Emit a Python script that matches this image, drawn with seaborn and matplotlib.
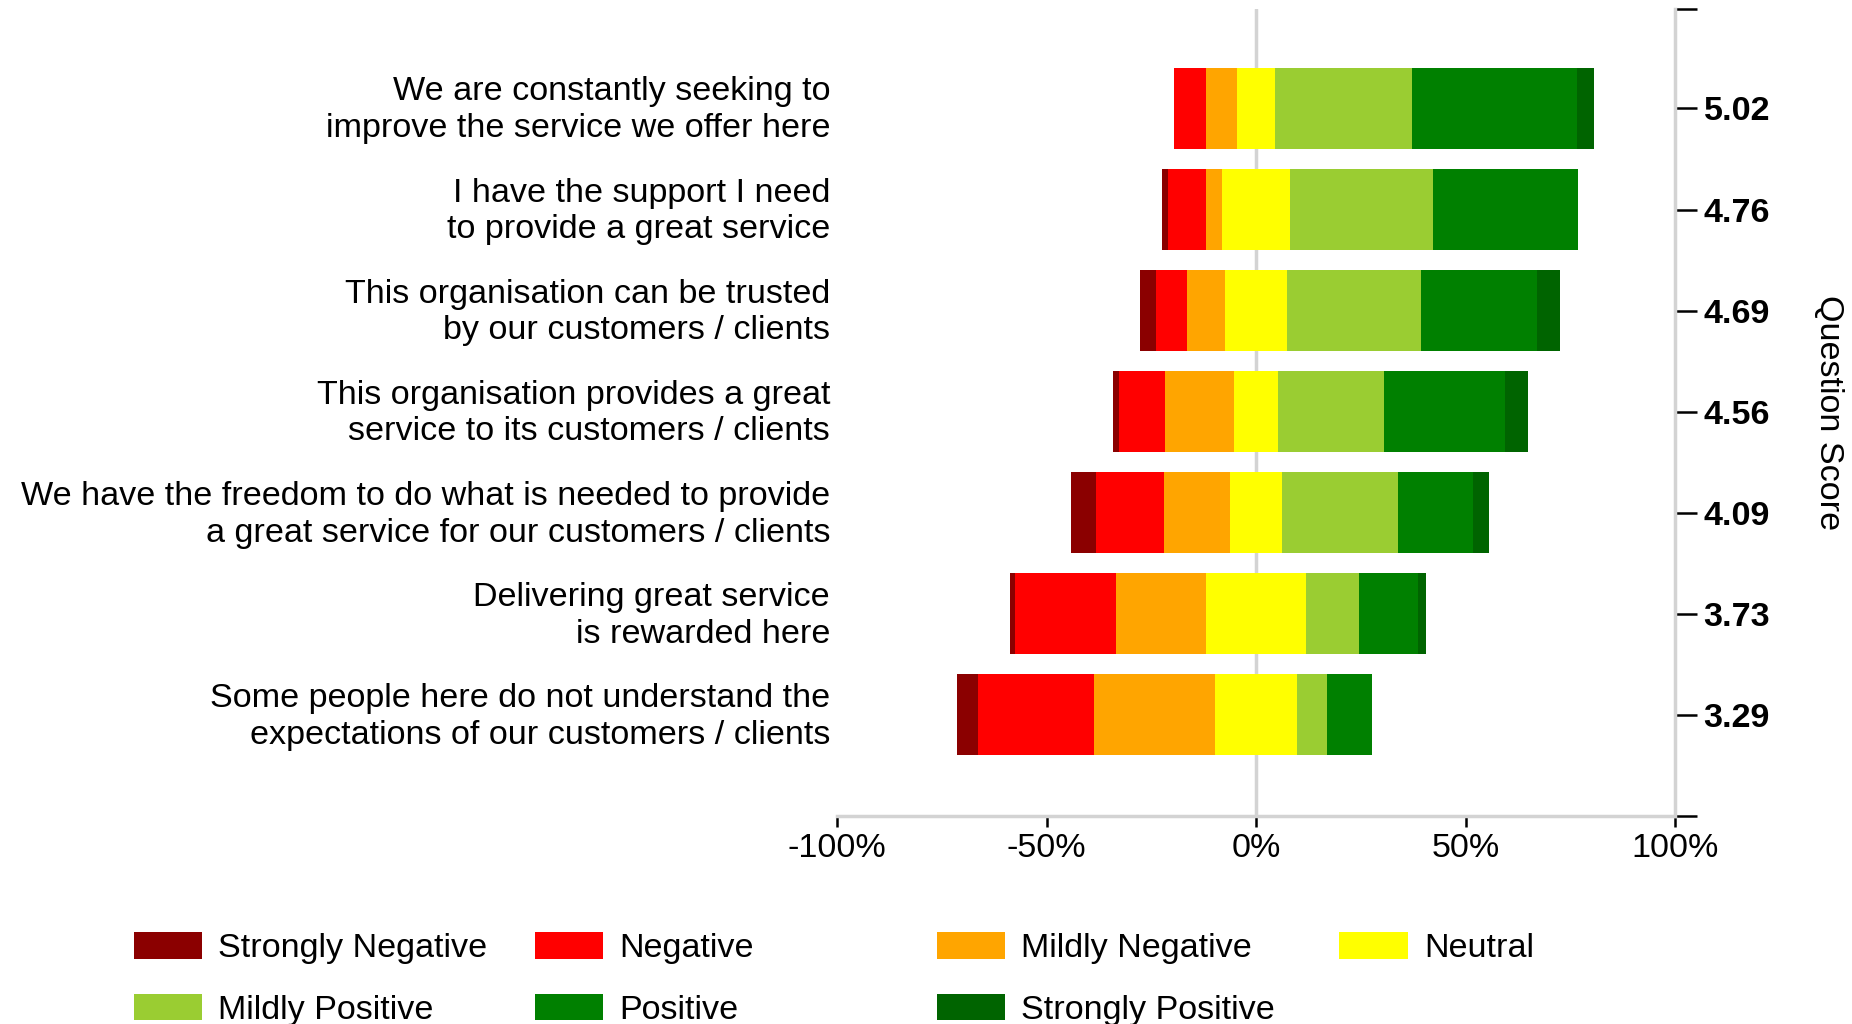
import matplotlib
matplotlib.use("Agg")
import matplotlib.pyplot as plt
from matplotlib.patches import Patch
from matplotlib.transforms import ScaledTranslation
import numpy as np
import seaborn as sns

# questions, top to bottom
questions = [
    "We are constantly seeking to\nimprove the service we offer here",
    "I have the support I need\nto provide a great service",
    "This organisation can be trusted\nby our customers / clients",
    "This organisation provides a great\nservice to its customers / clients",
    "We have the freedom to do what is needed to provide\na great service for our customers / clients",
    "Delivering great service\nis rewarded here",
    "Some people here do not understand the\nexpectations of our customers / clients",
]
scores = ["5.02", "4.76", "4.69", "4.56", "4.09", "3.73", "3.29"]

categories = ["Strongly Negative", "Negative", "Mildly Negative", "Neutral",
              "Mildly Positive", "Positive", "Strongly Positive"]
colors = ["#8b0000", "#ff0000", "#ffa500", "#ffff00", "#9acd32", "#008000", "#006400"]

# % of responses per question
strongly_negative = [0.0, 1.4, 3.8, 1.4, 5.9, 1.4, 5.2]
negative = [7.6, 9.0, 7.4, 11.1, 16.4, 23.9, 27.5]
mildly_negative = [7.5, 3.8, 9.0, 16.4, 15.6, 21.6, 29.0]
neutral = [9.0, 16.3, 14.9, 10.4, 12.6, 23.8, 19.5]
mildly_positive = [32.8, 34.2, 32.0, 25.4, 27.5, 12.8, 7.3]
positive = [39.4, 34.4, 27.5, 28.9, 18.0, 14.0, 10.7]
strongly_positive = [4.0, 0.0, 5.5, 5.5, 3.8, 1.9, 0.0]

x_ticks = [-100, -50, 0, 50, 100]

sns.set_style("white")
plt.rcParams["font.family"] = ["Liberation Sans", "DejaVu Sans"]
for key in ["text.color", "axes.labelcolor", "xtick.color", "ytick.color"]:
    plt.rcParams[key] = "black"
FS = 24.6
GREY = "#d3d3d3"

# neutral is split around zero, the rest stacks outwards from it
half_neu = np.array(neutral) / 2
neg_mild = half_neu + np.array(mildly_negative)
neg_mid = neg_mild + np.array(negative)
neg_strong = neg_mid + np.array(strongly_negative)
pos_mild = half_neu + np.array(mildly_positive)
pos_mid = pos_mild + np.array(positive)
pos_strong = pos_mid + np.array(strongly_positive)

layers = [
    (-neg_strong, colors[0]), (-neg_mid, colors[1]), (-neg_mild, colors[2]),
    (pos_strong, colors[6]), (pos_mid, colors[5]), (pos_mild, colors[4]),
]

fig, ax = plt.subplots(figsize=(18.52, 10.24), dpi=100)
fig.subplots_adjust(left=837 / 1852, right=1675 / 1852, top=1 - 9.4 / 1024, bottom=1 - 816 / 1024)

ax.axvline(0, color=GREY, lw=2.5, zorder=0)
for ends, col in layers:
    sns.barplot(x=ends, y=questions, orient="y", color=col, saturation=1, width=0.8,
                errorbar=None, linewidth=0, zorder=2, ax=ax)
sns.barplot(x=neutral, y=questions, orient="y", color=colors[3], saturation=1, width=0.8,
            errorbar=None, linewidth=0, zorder=3, left=-half_neu, ax=ax)

ylims = (7.0, -0.98)
ax.set_xlim(-100, 100)
ax.set_ylim(*ylims)
ax.set_xticks(x_ticks)
ax.set_xticklabels([f"{t}%" for t in x_ticks])
ax.set_xlabel("")
ax.set_ylabel("")
ax.tick_params(axis="x", length=8, width=1.8, color="black", labelsize=FS, pad=4, bottom=True)
ax.tick_params(axis="y", length=0, labelsize=FS, pad=5)
for s in ["left", "top", "right"]:
    ax.spines[s].set_visible(False)
ax.spines["bottom"].set_color(GREY)
ax.spines["bottom"].set_linewidth(2.5)

# nudge the two-line question labels up a little
lift = ScaledTranslation(0, 4.5 / 100, fig.dpi_scale_trans)
for lbl in ax.get_yticklabels():
    lbl.set_linespacing(1.24)
    lbl.set_transform(lbl.get_transform() + lift)

# score axis on the right
ax2 = ax.twinx()
ax2.set_ylim(*ylims)
ax2.set_yticks([ylims[1]] + list(range(len(scores))) + [ylims[0]])
ax2.set_yticklabels([""] + scores + [""], fontweight="bold")
ax2.tick_params(axis="y", length=15.5, width=1.8, color="black", labelsize=FS, pad=5, right=True)
for s in ["left", "top", "bottom"]:
    ax2.spines[s].set_visible(False)
ax2.spines["right"].set_color(GREY)
ax2.spines["right"].set_linewidth(2.5)
ax2.set_ylabel("Question Score", rotation=270, fontsize=FS, va="center")
ax2.yaxis.set_label_coords(1 + 153 / 838, 0.5)

# legend: four fixed-width columns, filled row by row
handles = [Patch(facecolor=c, edgecolor="none", label=l) for l, c in zip(categories, colors)]
columns = [[0, 4], [1, 5], [2, 6], [3]]
col_x = [133.5, 535, 936.6, 1339.3]
for idx, x in zip(columns, col_x):
    fig.legend(handles=[handles[i] for i in idx], loc="upper left",
               bbox_to_anchor=(x / 1852, 1 - 932 / 1024), frameon=False, fontsize=FS,
               handlelength=2.0, handleheight=0.82, handletextpad=0.48, labelspacing=0.87,
               borderpad=0, borderaxespad=0)

fig.savefig("out.png", dpi=100)
